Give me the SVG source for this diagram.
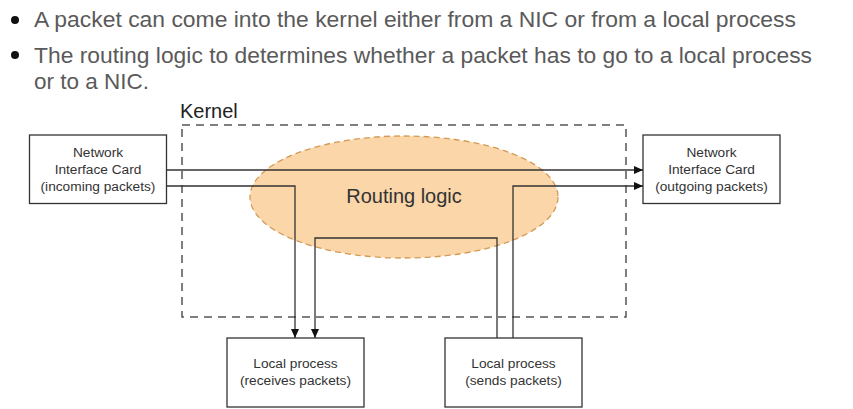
<svg xmlns="http://www.w3.org/2000/svg" width="853" height="409" viewBox="0 0 853 409">
<style>
.bul{font-family:"Liberation Sans",Arial,sans-serif;font-size:21.5px;fill:#5a5a5a}
.box{fill:#fff;stroke:#333;stroke-width:1.3}
.bt{font-family:"Liberation Sans",Arial,sans-serif;font-size:13.7px;fill:#333;text-anchor:middle}
.ln{fill:none;stroke:#333;stroke-width:1.3}
</style>
<defs>
<marker id="ah" markerWidth="9" markerHeight="8" refX="9" refY="4" orient="auto" markerUnits="userSpaceOnUse">
<path d="M0,0 L9,4 L0,8 Z" fill="#111"/>
</marker>
</defs>
<rect width="853" height="409" fill="#fff"/>
<g id="bullets">
<circle cx="15" cy="20" r="4" fill="#111"/>
<text class="bul" x="34" y="27" textLength="762" lengthAdjust="spacingAndGlyphs">A packet can come into the kernel either from a NIC or from a local process</text>
<circle cx="15" cy="55" r="4" fill="#111"/>
<text class="bul" x="34" y="62.5" textLength="778" lengthAdjust="spacingAndGlyphs">The routing logic to determines whether a packet has to go to a local process</text>
<text class="bul" x="34" y="89" textLength="115" lengthAdjust="spacingAndGlyphs">or to a NIC.</text>
</g>
<g id="kernel">
<rect x="182" y="125" width="444" height="192" fill="none" stroke="#555" stroke-width="1.5" stroke-dasharray="8,6"/>
<text x="180" y="118" font-family="Liberation Sans,Arial,sans-serif" font-size="20" fill="#222">Kernel</text>
</g>
<g id="routing">
<ellipse cx="404" cy="197" rx="154" ry="61" fill="#f9d2a0" fill-opacity="0.9" stroke="#d49a55" stroke-width="1.3" stroke-dasharray="6,4"/>
<text x="404" y="203" font-family="Liberation Sans,Arial,sans-serif" font-size="20" fill="#333" text-anchor="middle">Routing logic</text>
</g>
<g id="nic-in">
<rect class="box" x="29.5" y="135" width="137" height="68.5"/>
<text class="bt" x="98" y="157">Network</text>
<text class="bt" x="98" y="174">Interface Card</text>
<text class="bt" x="98" y="191">(incoming packets)</text>
</g>
<g id="nic-out">
<rect class="box" x="643" y="135" width="137" height="68.5"/>
<text class="bt" x="711.5" y="157">Network</text>
<text class="bt" x="711.5" y="174">Interface Card</text>
<text class="bt" x="711.5" y="191">(outgoing packets)</text>
</g>
<g id="lp-recv">
<rect class="box" x="227" y="338" width="137" height="69"/>
<text class="bt" x="295.5" y="368">Local process</text>
<text class="bt" x="295.5" y="385">(receives packets)</text>
</g>
<g id="lp-send">
<rect class="box" x="445" y="338" width="137" height="69"/>
<text class="bt" x="513.5" y="368">Local process</text>
<text class="bt" x="513.5" y="385">(sends packets)</text>
</g>
<g id="connectors">
<path class="ln" d="M166.5,170 H643" marker-end="url(#ah)"/>
<path class="ln" d="M166.5,186 H295 V338" marker-end="url(#ah)"/>
<path class="ln" d="M497,338 V238 H315 V338" marker-end="url(#ah)"/>
<path class="ln" d="M513,338 V186 H643" marker-end="url(#ah)"/>
</g>
</svg>
